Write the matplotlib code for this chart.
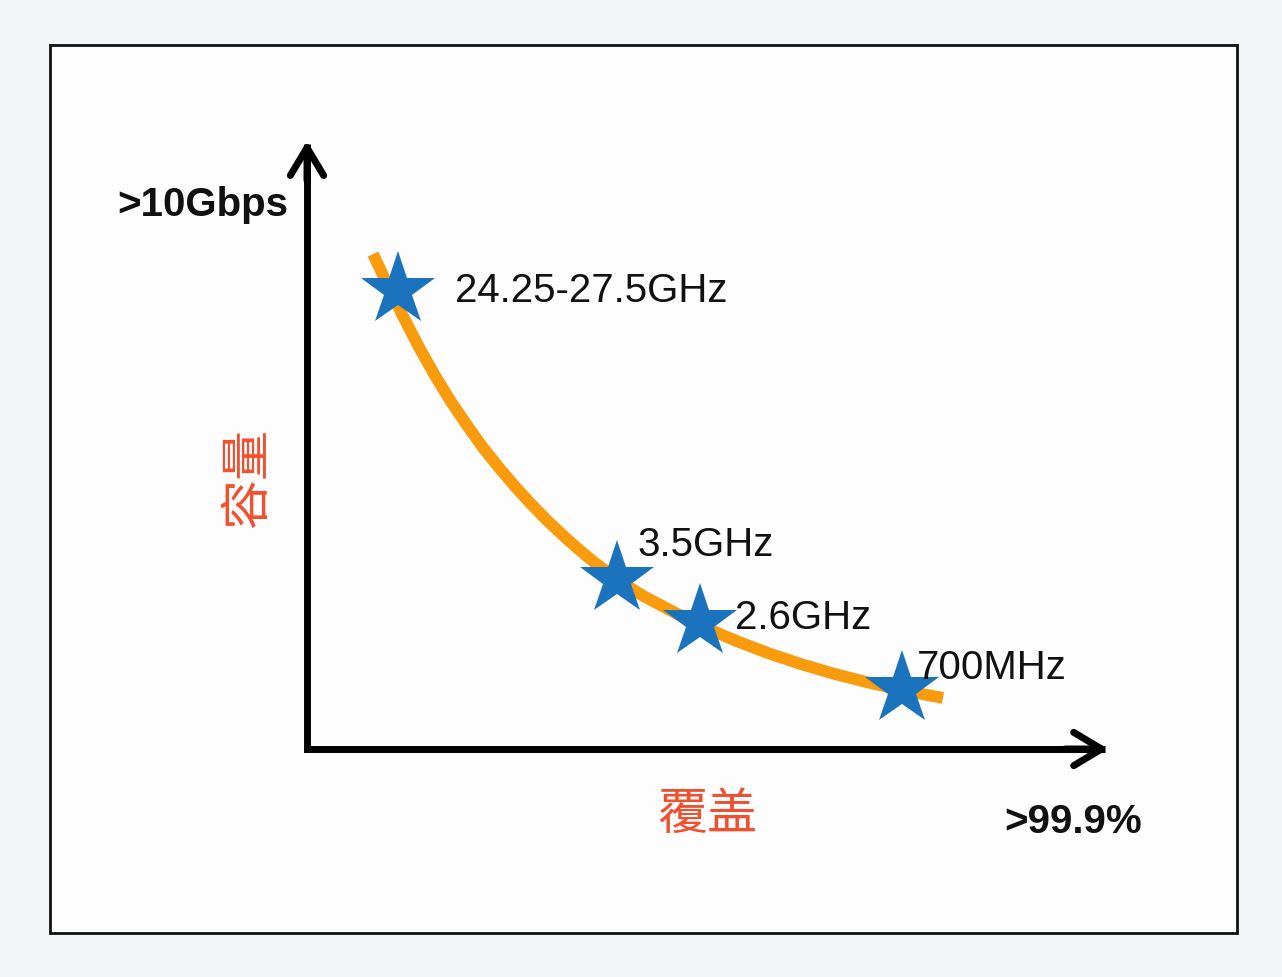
import matplotlib
matplotlib.use("Agg")
import matplotlib.pyplot as plt
from matplotlib.patches import Rectangle

# ---- data ----
bands = ["24.25-27.5GHz", "3.5GHz", "2.6GHz", "700MHz"]
band_coverage = [11.4, 38.8, 49.2, 74.6]
band_capacity = [75.9, 28.1, 21.0, 9.9]
label_offsets = [(57, 0), (21, 35), (35, 5), (15, 22)]

curve_coverage = [8.27, 10, 12, 14, 16, 18, 20, 22, 24, 26, 28, 30, 32, 34, 36, 38,
                  40, 42, 46, 50, 54, 58, 62, 66, 70, 74, 78, 79.7]
curve_capacity = [81.8, 77.0, 71.6, 66.5, 61.8, 57.5, 53.6, 49.9, 46.6, 43.5, 40.6,
                  37.9, 35.4, 33.05, 30.85, 28.9, 27.05, 25.4, 22.6, 20.0, 17.75,
                  15.75, 14.0, 12.45, 11.1, 9.9, 8.85, 8.45]

y_axis_title = "容量"
x_axis_title = "覆盖"
y_top_label = ">10Gbps"
x_end_label = ">99.9%"

W, H = 1282, 978
fig = plt.figure(figsize=(W / 100, H / 100), dpi=100)
fig.patch.set_facecolor("#f4f5f7")

def fx(x):
    return x / W

def fy(y):
    return 1 - y / H

# frame
fig.patches.append(Rectangle((fx(50), fy(934)), fx(1237) - fx(50), fy(46) - fy(934),
                             transform=fig.transFigure, facecolor="#fdfdfe",
                             edgecolor="#111111", lw=2.0, zorder=-10))

ax = fig.add_axes([fx(307), fy(750), 798 / W, 605 / H])
ax.set_zorder(5)
ax.set_xlim(0, 100)
ax.set_ylim(0, 100)
ax.axis("off")

# axis shafts (square corner at the origin)
ax.plot([0, 0, 100], [100, 0, 0], color="black", lw=5, solid_joinstyle="miter",
        solid_capstyle="butt", clip_on=False, zorder=1)
# arrow heads
arrow_kw = dict(arrowstyle="->, head_length=0.5, head_width=0.3", lw=5,
                color="black", shrinkA=0, shrinkB=0, mutation_scale=40,
                capstyle="round", joinstyle="round")
ax.annotate("", xy=(100.4, 0), xytext=(95, 0), arrowprops=arrow_kw,
            annotation_clip=False)
ax.annotate("", xy=(0, 100.5), xytext=(0, 94), arrowprops=arrow_kw,
            annotation_clip=False)

ax.plot(curve_coverage, curve_capacity, color="#f89c0e", lw=8.5,
        solid_capstyle="butt", solid_joinstyle="round", clip_on=False, zorder=2)
ax.plot(band_coverage, band_capacity, linestyle="none", marker="*",
        markersize=56, color="#1b73bd", markeredgewidth=0, clip_on=False, zorder=3)

for name, x, y, off in zip(bands, band_coverage, band_capacity, label_offsets):
    ax.annotate(name, xy=(x, y), xytext=off, textcoords="offset pixels",
                ha="left", va="center", fontsize=29, family="Liberation Sans",
                color="#111111", annotation_clip=False, zorder=4)

fig.text(fx(288), fy(205), y_top_label, ha="right", va="center", fontsize=29,
         fontweight="bold", family="Liberation Sans", color="#111111")
fig.text(fx(1142), fy(822), x_end_label, ha="right", va="center", fontsize=29,
         fontweight="bold", family="Liberation Sans", color="#111111")
fig.text(fx(707), fy(815), x_axis_title, ha="center", va="center", fontsize=36,
         family=["Noto Sans CJK SC", "DejaVu Sans"], color="#f0502d")
fig.text(fx(248), fy(478), y_axis_title, ha="center", va="center", fontsize=36,
         rotation=90, family=["Noto Sans CJK SC", "DejaVu Sans"], color="#f0502d")

fig.savefig("out.png", dpi=100, facecolor=fig.get_facecolor())
